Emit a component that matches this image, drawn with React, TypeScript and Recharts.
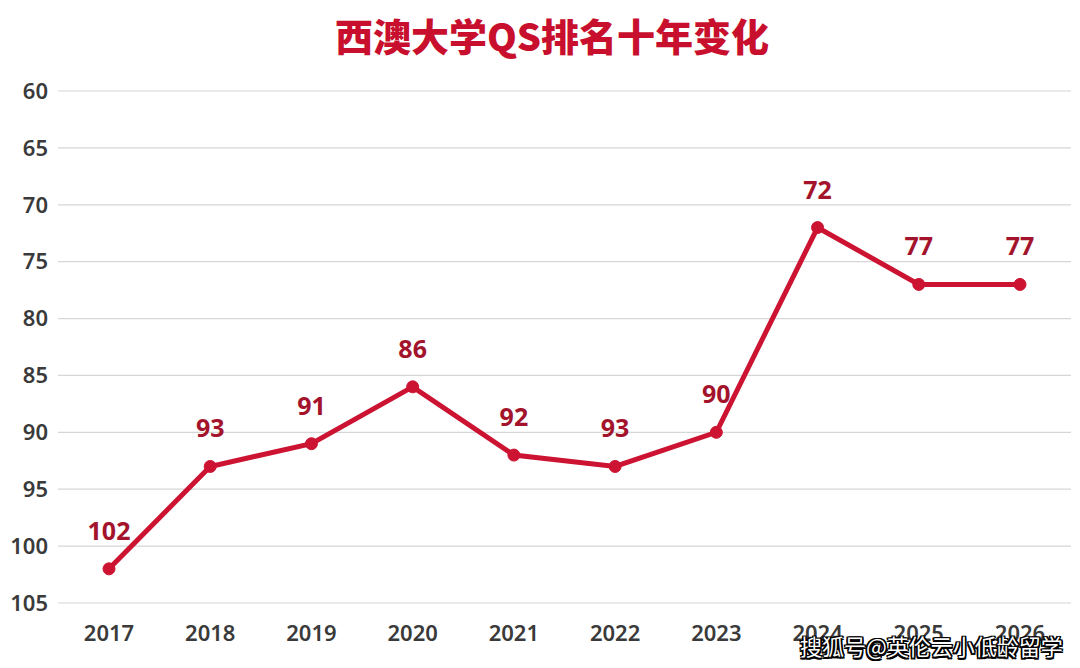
import { LineChart, Line, XAxis, YAxis, CartesianGrid, LabelList } from 'recharts'

const years = ['2017', '2018', '2019', '2020', '2021', '2022', '2023', '2024', '2025', '2026']
const ranks = [102, 93, 91, 86, 92, 93, 90, 72, 77, 77]
const yTicks = [60, 65, 70, 75, 80, 85, 90, 95, 100, 105]

const data = years.map((year, i) => ({ year, rank: ranks[i] }))

const FONT = '"Noto Sans", "Noto Sans CJK SC", sans-serif'

export default function App() {
  return (
    <div
      style={{
        position: 'absolute',
        left: 0,
        top: 0,
        width: 1080,
        height: 668,
        background: '#ffffff',
        fontFamily: FONT,
        overflow: 'hidden',
      }}
    >
      {/* title */}
      <div
        style={{
          position: 'absolute',
          left: 0,
          top: 9,
          width: 1104,
          textAlign: 'center',
          fontFamily: '"Noto Sans CJK SC", sans-serif',
          fontWeight: 900,
          fontSize: 38,
          lineHeight: '52px',
          color: '#c8102e',
        }}
      >
        西澳大学QS排名十年变化
      </div>

      <LineChart
        width={1080}
        height={668}
        data={data}
        margin={{ top: 91, right: 9, bottom: 35, left: 0 }}
      >
        <CartesianGrid vertical={false} stroke="#d6d6d6" strokeWidth={1.2} />
        <XAxis
          dataKey="year"
          axisLine={false}
          tickLine={false}
          tickSize={0}
          tickMargin={22}
          height={30}
          interval={0}
          padding={{ left: 51, right: 51 }}
          tick={{ fill: '#3a3a3a', fontSize: 22, fontWeight: 600, fontFamily: FONT }}
        />
        <YAxis
          reversed
          domain={[60, 105]}
          ticks={yTicks}
          interval={0}
          axisLine={false}
          tickLine={false}
          tickSize={0}
          tickMargin={10}
          width={58}
          tick={{ fill: '#3a3a3a', fontSize: 22, fontWeight: 600, fontFamily: FONT }}
        />
        <Line
          type="linear"
          dataKey="rank"
          stroke="#cc1432"
          strokeWidth={5}
          dot={{ r: 6, fill: '#cc1432', stroke: '#cc1432', strokeWidth: 1 }}
          isAnimationActive={false}
        >
          <LabelList
            dataKey="rank"
            position="top"
            offset={29}
            style={{ fill: '#a3142c', fontSize: 25, fontWeight: 700, fontFamily: FONT }}
          />
        </Line>
      </LineChart>

      {/* watermark */}
      <div
        style={{
          position: 'absolute',
          left: 800,
          top: 629,
          whiteSpace: 'nowrap',
          fontFamily: '"Noto Sans CJK SC", sans-serif',
          fontSize: 22,
          lineHeight: '32px',
          color: '#ffffff',
          textShadow:
            '-1.5px -1.5px 0 #000, 1.5px -1.5px 0 #000, -1.5px 1.5px 0 #000, 1.5px 1.5px 0 #000, 0 1.5px 0 #000, 0 -1.5px 0 #000, 1.5px 0 0 #000, -1.5px 0 0 #000',
        }}
      >
        搜狐号@英伦云小低龄留学
      </div>
    </div>
  )
}
